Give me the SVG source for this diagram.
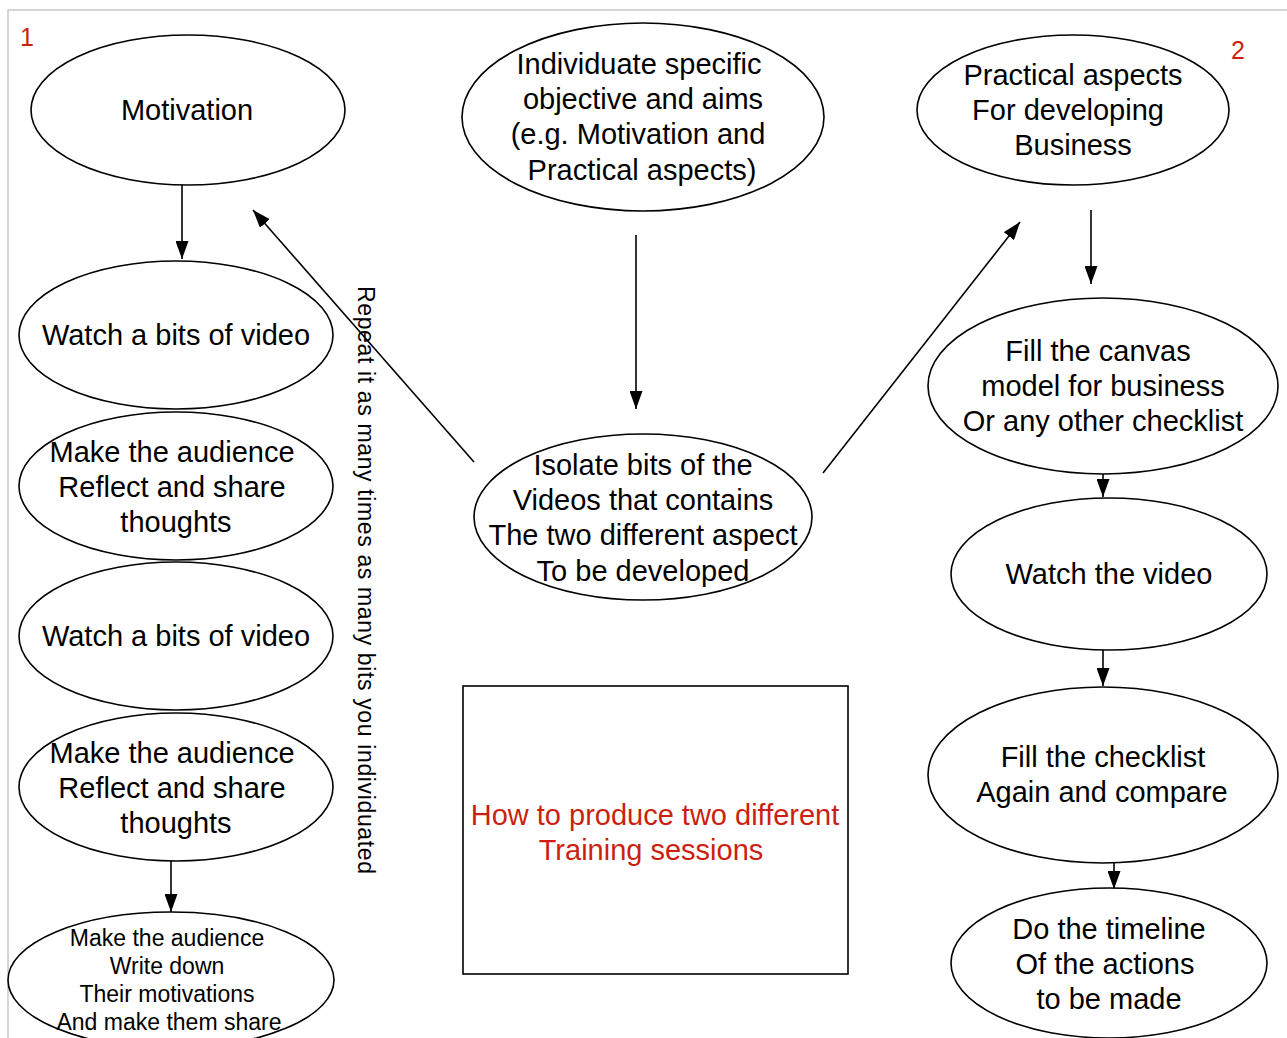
<svg xmlns="http://www.w3.org/2000/svg" width="1287" height="1038" viewBox="0 0 1287 1038">
<style>
  .n { fill: #ffffff; stroke: #000; stroke-width: 1.6; }
  .t { font-family: "Liberation Sans", Arial, sans-serif; font-size: 29px; fill: #000; text-anchor: middle; }
  .s { font-size: 23px; }
  .red { fill: #cc1f10; }
  .e { stroke: #000; stroke-width: 1.6; fill: none; marker-end: url(#ah); }
</style>
<defs>
  <marker id="ah" markerUnits="userSpaceOnUse" markerWidth="18" markerHeight="13" refX="18" refY="6.5" orient="auto" viewBox="0 0 18 13">
    <path d="M0,0 L18,6.5 L0,13 Z" fill="#000"/>
  </marker>
</defs>
<rect x="0" y="0" width="1287" height="1038" fill="#fff"/>
<rect x="8" y="10" width="1300" height="1100" fill="none" stroke="#c8c8c8" stroke-width="1.5"/>

<text class="t red" x="27" y="46" style="font-size:25px">1</text>
<text class="t red" x="1238" y="59" style="font-size:25px">2</text>

<g id="connectors">
  <line class="e" x1="182" y1="185" x2="182" y2="259"/>
  <line class="e" x1="171" y1="861" x2="171" y2="912"/>
  <line class="e" x1="636" y1="235" x2="636" y2="409"/>
  <line class="e" x1="474" y1="462" x2="253" y2="210"/>
  <line class="e" x1="823" y1="473" x2="1020" y2="222"/>
  <line class="e" x1="1091" y1="210" x2="1091" y2="284"/>
  <line class="e" x1="1103" y1="462" x2="1103" y2="497"/>
  <line class="e" x1="1103" y1="650" x2="1103" y2="686"/>
  <line class="e" x1="1114" y1="862" x2="1114" y2="889"/>
</g>

<g id="motivation">
  <ellipse class="n" cx="188" cy="110" rx="157" ry="75"/>
  <text class="t" x="187" y="120">Motivation</text>
</g>
<g id="watch1">
  <ellipse class="n" cx="176" cy="335" rx="157" ry="74"/>
  <text class="t" x="176" y="345">Watch a bits of video</text>
</g>
<g id="reflect1">
  <ellipse class="n" cx="176" cy="486" rx="157" ry="74"/>
  <text class="t" x="172" y="462">Make the audience</text>
  <text class="t" x="172" y="497">Reflect and share</text>
  <text class="t" x="176" y="532">thoughts</text>
</g>
<g id="watch2">
  <ellipse class="n" cx="176" cy="636" rx="157" ry="74"/>
  <text class="t" x="176" y="646">Watch a bits of video</text>
</g>
<g id="reflect2">
  <ellipse class="n" cx="176" cy="787" rx="157" ry="74"/>
  <text class="t" x="172" y="763">Make the audience</text>
  <text class="t" x="172" y="798">Reflect and share</text>
  <text class="t" x="176" y="833">thoughts</text>
</g>
<g id="writedown">
  <ellipse class="n" cx="171" cy="980" rx="163" ry="68"/>
  <text class="t s" x="167" y="946">Make the audience</text>
  <text class="t s" x="167" y="974">Write down</text>
  <text class="t s" x="167" y="1002">Their motivations</text>
  <text class="t s" x="169" y="1030">And make them share</text>
</g>

<g id="objective">
  <ellipse class="n" cx="643" cy="117" rx="181" ry="94"/>
  <text class="t" x="639" y="74">Individuate specific</text>
  <text class="t" x="643" y="109">objective and aims</text>
  <text class="t" x="638" y="144">(e.g. Motivation and</text>
  <text class="t" x="642" y="180">Practical aspects)</text>
</g>
<g id="isolate">
  <ellipse class="n" cx="643" cy="517" rx="169" ry="83"/>
  <text class="t" x="643" y="475">Isolate bits of the</text>
  <text class="t" x="643" y="510">Videos that contains</text>
  <text class="t" x="643" y="545">The two different aspect</text>
  <text class="t" x="643" y="581">To be developed</text>
</g>

<text class="t" x="358" y="580" transform="rotate(90 358 580)" style="font-size:23px" textLength="588" lengthAdjust="spacing">Repeat it as many times as many bits you individuated</text>

<g id="title">
  <rect x="463" y="686" width="385" height="288" fill="#fff" stroke="#000" stroke-width="1.6"/>
  <text class="t red" x="655" y="825">How to produce two different</text>
  <text class="t red" x="651" y="860">Training sessions</text>
</g>

<g id="practical">
  <ellipse class="n" cx="1073" cy="110" rx="156" ry="75"/>
  <text class="t" x="1073" y="85">Practical aspects</text>
  <text class="t" x="1068" y="120">For developing</text>
  <text class="t" x="1073" y="155">Business</text>
</g>
<g id="canvas">
  <ellipse class="n" cx="1103" cy="386" rx="175" ry="88"/>
  <text class="t" x="1098" y="361">Fill the canvas</text>
  <text class="t" x="1103" y="396">model for business</text>
  <text class="t" x="1103" y="431">Or any other checklist</text>
</g>
<g id="watchvideo">
  <ellipse class="n" cx="1109" cy="574" rx="158" ry="76"/>
  <text class="t" x="1109" y="584">Watch the video</text>
</g>
<g id="checklist">
  <ellipse class="n" cx="1103" cy="775" rx="175" ry="88"/>
  <text class="t" x="1103" y="767">Fill the checklist</text>
  <text class="t" x="1102" y="802">Again and compare</text>
</g>
<g id="timeline">
  <ellipse class="n" cx="1109" cy="963" rx="158" ry="75"/>
  <text class="t" x="1109" y="939">Do the timeline</text>
  <text class="t" x="1105" y="974">Of the actions</text>
  <text class="t" x="1109" y="1009">to be made</text>
</g>
</svg>
